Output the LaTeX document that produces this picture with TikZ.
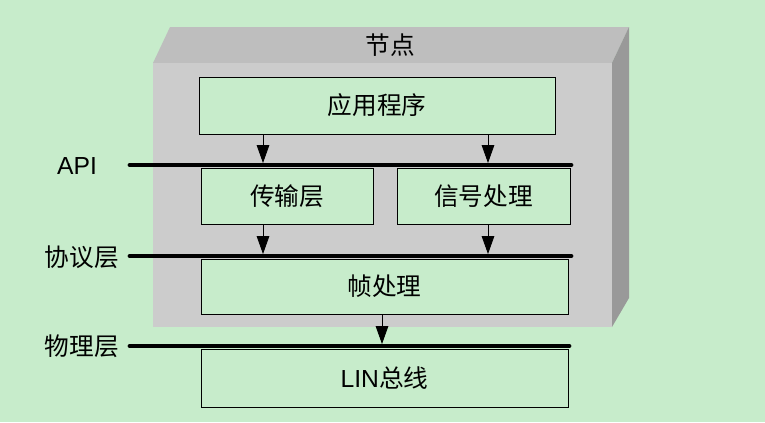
\documentclass[tikz,border=0pt]{standalone}
\usepackage{fontspec}
\setmainfont{Liberation Sans}
\newfontfamily\cjk{Noto Sans CJK SC}
\usepackage{tikz}
\usetikzlibrary{shapes,arrows.meta}
\definecolor{bggreen}{RGB}{199,236,203}
\definecolor{topgray}{RGB}{190,190,190}
\definecolor{frontgray}{RGB}{204,204,204}
\definecolor{sidegray}{RGB}{153,153,153}
\tikzstyle{block} = [rectangle, draw=black, fill=bggreen, line width=0.6pt,
    text centered, inner sep=0pt, font=\fontsize{18.5}{21}\selectfont\cjk]
\tikzstyle{line} = [draw, line width=0.6pt, -{Triangle[length=13.5pt,width=9.5pt]}]
\tikzstyle{bus} = [draw, line width=3.6pt, line cap=round]
\tikzstyle{tag} = [font=\fontsize{18.5}{21}\selectfont]

\begin{document}
\begin{tikzpicture}[x=0.75pt,y=-0.75pt]
\fill[bggreen] (0,0) rectangle (765,422);
\useasboundingbox (0,0) rectangle (765,422);
% node housing
\fill[topgray] (153,63) -- (170,27) -- (629,27) -- (612,63) -- cycle;
\fill[frontgray] (153,63) rectangle (612,327);
\fill[sidegray] (612,63) -- (629,27) -- (629,298) -- (612,327) -- cycle;
\node [tag] at (390,45) (node) {\cjk 节点};

\node [block, minimum width=267pt, minimum height=42.75pt] at (377,105.5) (app) {应用程序};
\node [block, minimum width=129pt, minimum height=42pt] at (287,196) (trans) {传输层};
\node [block, minimum width=129.75pt, minimum height=42pt] at (483.5,196) (signal) {信号处理};
\node [block, minimum width=275.25pt, minimum height=41.25pt] at (384.5,286.5) (frame) {帧处理};
\node [block, minimum width=275.25pt, minimum height=43.5pt] at (384.5,378) (lin) {{\rmfamily LIN}总线};

% buses
\coordinate (apiL) at (130,165);
\coordinate (apiR) at (571,165);
\coordinate (protL) at (130,256);
\coordinate (protR) at (571,256);
\coordinate (physL) at (130,346);
\coordinate (physR) at (569,346);
\draw [bus] (apiL) -- (apiR);
\draw [bus] (protL) -- (protR);
\draw [bus] (physL) -- (physR);
\node [tag] at (77,166) (api) {API};
\node [tag] at (82,257) (prot) {\cjk 协议层};
\node [tag] at (82,346) (phys) {\cjk 物理层};

\draw [line] (app.south -| 263,0) -- (263,163);
\draw [line] (app.south -| 488,0) -- (488,163);
\draw [line] (trans.south -| 263,0) -- (263,254);
\draw [line] (signal.south -| 488,0) -- (488,254);
\draw [line] (frame.south -| 382,0) -- (382,344);
\end{tikzpicture}
\end{document}
